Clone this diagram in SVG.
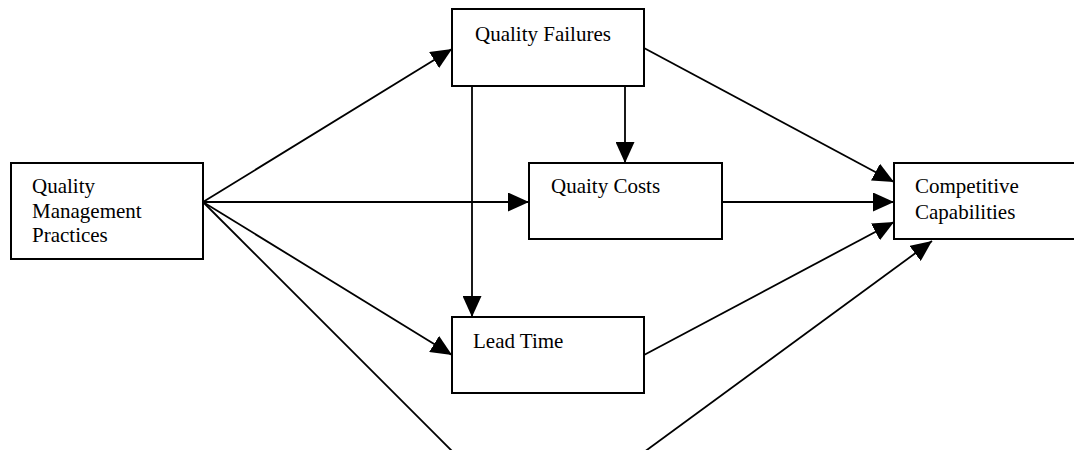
<svg xmlns="http://www.w3.org/2000/svg" width="1074" height="450" viewBox="0 0 1074 450">
<style>
.box{fill:#fff;stroke:#000;stroke-width:2}
.t{font-family:"Liberation Serif","Times New Roman",serif;font-size:21px;fill:#000}
.c{stroke:#000;stroke-width:1.8;fill:none}
</style>
<defs>
<marker id="ah" markerUnits="userSpaceOnUse" viewBox="0 0 21 19" refX="21" refY="9.5" markerWidth="21" markerHeight="19" orient="auto">
<path d="M0,0 L21,9.5 L0,19 Z" fill="#000"/>
</marker>
</defs>
<rect width="1074" height="450" fill="#fff"/>
<g id="connectors">
<line class="c" x1="203" y1="202" x2="452" y2="49" marker-end="url(#ah)"/>
<line class="c" x1="203" y1="202" x2="529" y2="202" marker-end="url(#ah)"/>
<line class="c" x1="203" y1="202" x2="452" y2="355" marker-end="url(#ah)"/>
<line class="c" x1="203" y1="202" x2="485" y2="484"/>
<line class="c" x1="610" y1="477" x2="932" y2="241" marker-end="url(#ah)"/>
<line class="c" x1="625" y1="86" x2="625" y2="163" marker-end="url(#ah)"/>
<line class="c" x1="472" y1="86" x2="472" y2="317" marker-end="url(#ah)"/>
<line class="c" x1="644" y1="48" x2="894" y2="182" marker-end="url(#ah)"/>
<line class="c" x1="722" y1="202" x2="894" y2="202" marker-end="url(#ah)"/>
<line class="c" x1="644" y1="355" x2="894" y2="222" marker-end="url(#ah)"/>
</g>
<g id="qmp">
<rect class="box" x="11" y="163" width="192" height="96"/>
<text class="t" x="32" y="193">Quality</text>
<text class="t" x="32" y="218">Management</text>
<text class="t" x="32" y="242">Practices</text>
</g>
<g id="quality-failures">
<rect class="box" x="452" y="9" width="192" height="77"/>
<text class="t" x="475" y="41">Quality Failures</text>
</g>
<g id="quality-costs">
<rect class="box" x="529" y="163" width="193" height="76"/>
<text class="t" x="551" y="193">Quaity Costs</text>
</g>
<g id="lead-time">
<rect class="box" x="452" y="317" width="192" height="76"/>
<text class="t" x="473" y="348">Lead Time</text>
</g>
<g id="competitive">
<rect class="box" x="894" y="163" width="200" height="76"/>
<text class="t" x="915" y="193">Competitive</text>
<text class="t" x="915" y="219">Capabilities</text>
</g>
</svg>
